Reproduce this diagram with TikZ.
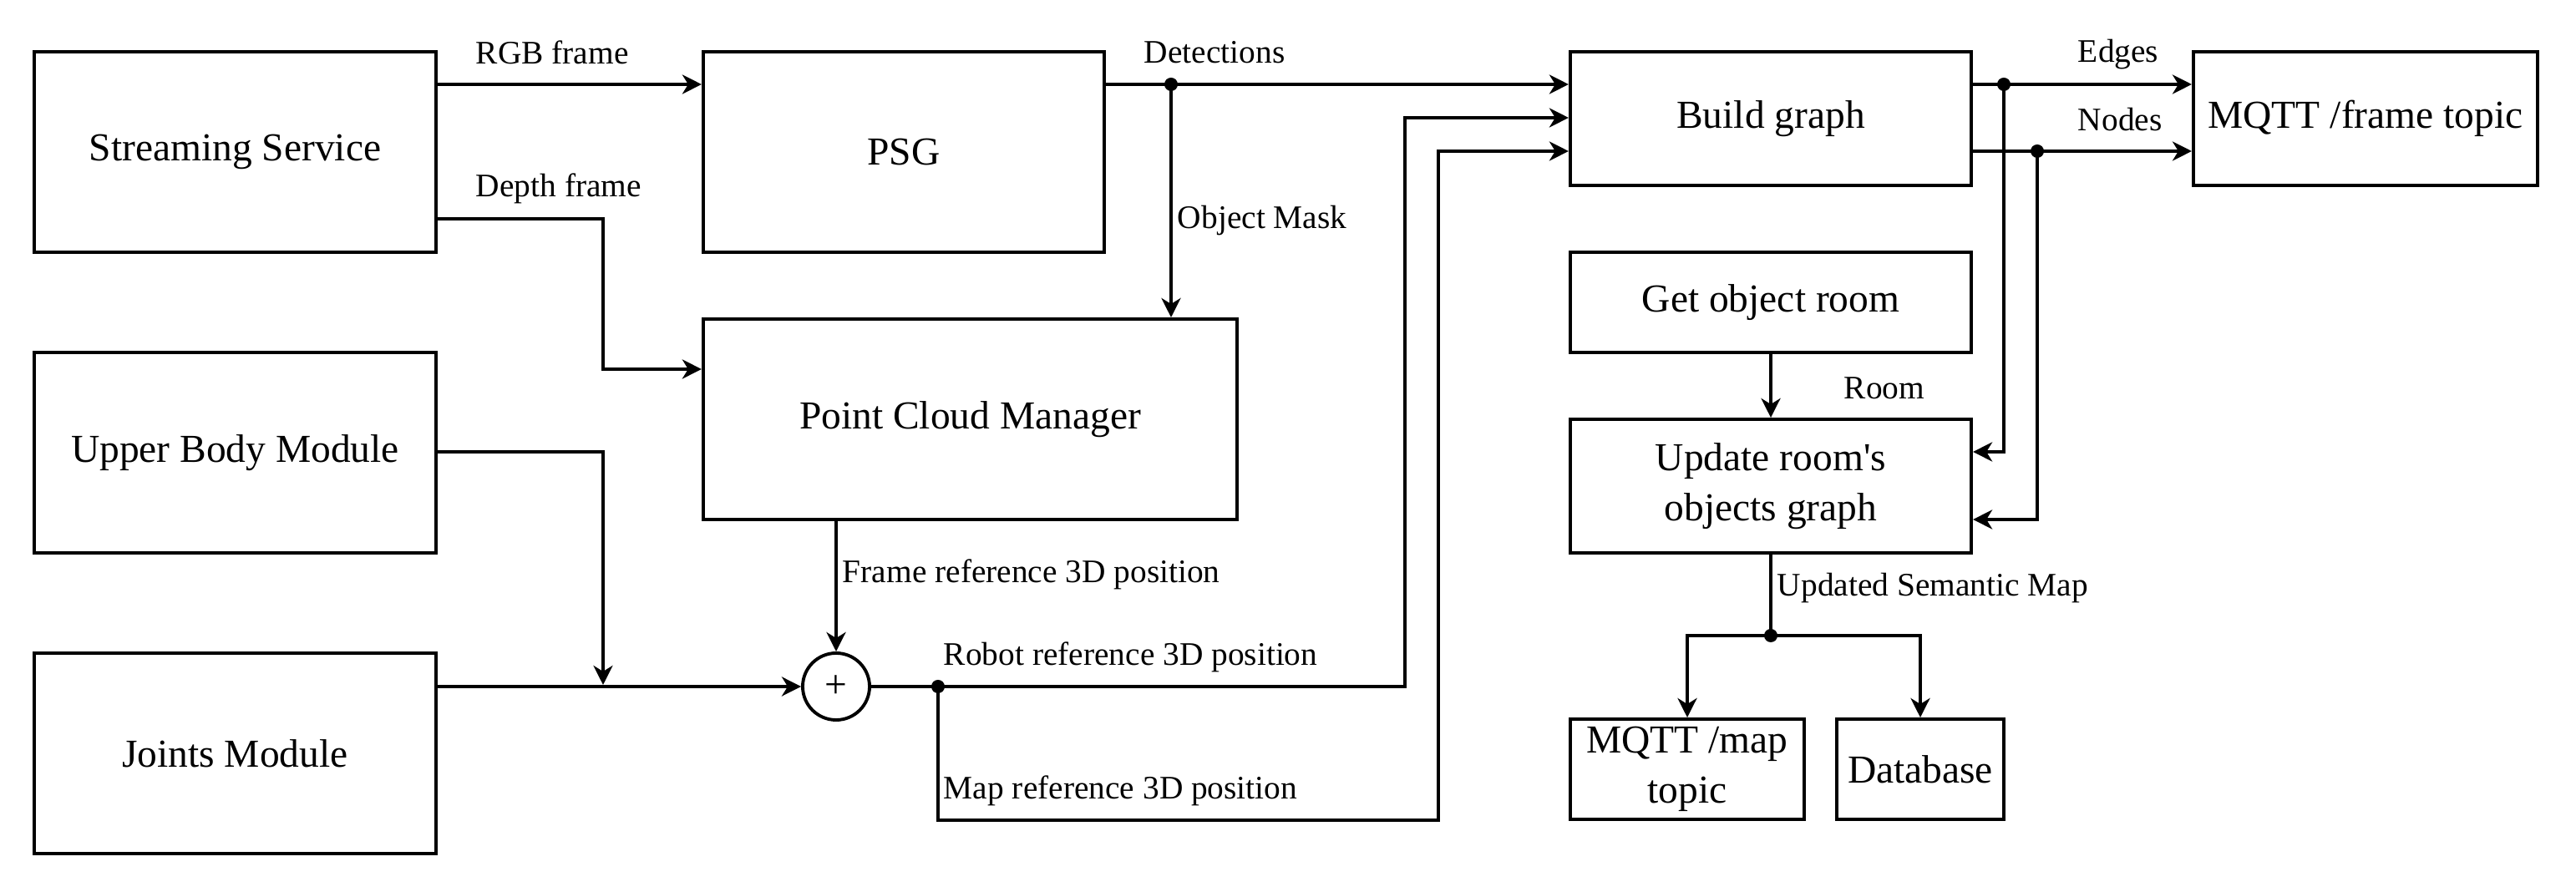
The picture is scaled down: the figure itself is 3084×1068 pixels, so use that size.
\documentclass[tikz,border=0pt]{standalone}
\usepackage{fontspec}
\setmainfont{Liberation Serif}
\usetikzlibrary{arrows.meta}

\begin{document}
\begin{tikzpicture}[x=0.01cm, y=-0.01cm, line width=1.1pt,
    >={Stealth[length=0.23cm,width=0.23cm,inset=0.07cm]},
    block/.style 2 args={draw, minimum width=#1cm, minimum height=#2cm,
      align=center, inner sep=0pt, font=\fontsize{13.5}{17}\selectfont},
    lbl/.style={anchor=west, inner sep=0pt, font=\fontsize{11.2}{13.5}\selectfont},
    dot/.style={circle, fill, inner sep=0pt, minimum size=0.16cm}]

    \useasboundingbox (0,0) rectangle (3084,1068);

    % sources
    \node[block={4.81}{2.4}] (stream) at (281.5,182) {Streaming Service};
    \node[block={4.81}{2.4}] (upper)  at (281.5,542) {Upper Body Module};
    \node[block={4.81}{2.4}] (joints) at (281.5,902) {Joints Module};

    % perception
    \node[block={4.8}{2.4}]  (psg) at (1082,182)   {PSG};
    \node[block={6.39}{2.4}] (pcm) at (1161.5,502) {Point Cloud Manager};
    \node[circle, draw, minimum size=0.8cm, inner sep=0pt,
          font=\fontsize{13.5}{17}\selectfont] (sum) at (1001,822) {+};

    % graph
    \node[block={4.8}{1.6}]  (build)   at (2120,142) {Build graph};
    \node[block={4.12}{1.6}] (mqttf)   at (2832,142) {MQTT /frame topic};
    \node[block={4.8}{1.2}]  (getroom) at (2120,362) {Get object room};
    \node[block={4.8}{1.6}]  (update)  at (2120,582) {Update room\textquotesingle s\\objects graph};
    \node[block={2.8}{1.2}]  (mqttm)   at (2020,921) {MQTT /map\\topic};
    \node[block={2.0}{1.2}]  (db)      at (2299,921) {Database};

    % junctions
    \node[dot] (det)  at (1402,101) {};
    \node[dot] (rob)  at (1123,822) {};
    \node[dot] (edge) at (2399,101) {};
    \node[dot] (nod)  at (2439,181) {};
    \node[dot] (sem)  at (2120,761) {};

    \draw[->] (stream.east |- 0,101) -- (psg.west |- 0,101);
    \draw[->] (stream.east |- 0,262) -| (722,442) -- (pcm.west |- 0,442);
    \draw[->] (psg.east |- 0,101) -- (build.west |- 0,101);
    \draw[->] (det.center) -- (det |- pcm.north);
    \draw[->] (sum |- pcm.south) -- (sum.north);
    \draw[->] (upper.east |- 0,541) -| (722,820);
    \draw[->] (joints.east |- sum) -- (sum.west);
    \draw[->] (sum.east) -- (rob.center) -- (1682,822) |- (build.west |- 0,141);
    \draw[->] (rob.center) |- (1722,982) |- (build.west |- 0,181);

    \draw[->] (build.east |- 0,101) -- (mqttf.west |- 0,101);
    \draw[->] (build.east |- 0,181) -- (mqttf.west |- 0,181);
    \draw[->] (edge.center) |- (update.east |- 0,541);
    \draw[->] (nod.center) |- (update.east |- 0,622);
    \draw[->] (getroom.south) -- (update.north);
    \draw (update.south) -- (sem.center);
    \draw[->] (sem.center) -| (mqttm.north);
    \draw[->] (sem.center) -| (db.north);

    % connector labels
    \node[lbl] (rgbl)   at (568,63)   {RGB frame};
    \node[lbl] (depthl) at (568,226)  {Depth frame};
    \node[lbl] (detl)   at (1368,63)  {Detections};
    \node[lbl] (maskl)  at (1408,264) {Object Mask};
    \node[lbl] (framel) at (1007,688) {Frame reference 3D position};
    \node[lbl] (robl)   at (1128,787) {Robot reference 3D position};
    \node[lbl] (mapl)   at (1128,947) {Map reference 3D position};
    \node[lbl] (edgel)  at (2486,65)  {Edges};
    \node[lbl] (nodl)   at (2486,143) {Nodes};
    \node[lbl] (rooml)  at (2206,465) {Room};
    \node[lbl] (seml)   at (2126,704) {Updated Semantic Map};

\end{tikzpicture}
\end{document}
